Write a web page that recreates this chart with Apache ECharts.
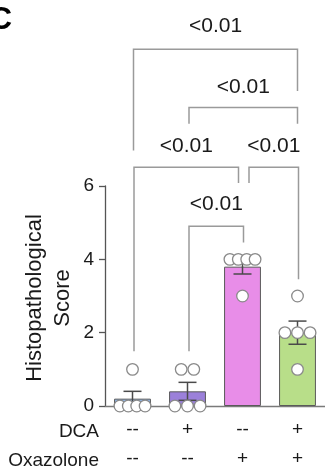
<!DOCTYPE html>
<html>
<head>
<meta charset="utf-8">
<script src="https://cdn.jsdelivr.net/npm/echarts@6/dist/echarts.min.js"></script>
<style>
  html, body { margin: 0; padding: 0; background: #fff; }
  #chart { width: 325px; height: 473px; }
</style>
</head>
<body>
<div id="chart"></div>
<script>
// Treatment groups and the DCA / Oxazolone design rows under the x axis
const categories = ['Vehicle', 'DCA', 'Oxazolone', 'DCA + Oxazolone'];
const dcaRow = ['--', '+', '--', '+'];
const oxazoloneRow = ['--', '--', '+', '+'];

// Histopathological score: group means and SEM
const meanScores = [0.2, 0.4, 3.8, 2.0];
const semScores = [0.2, 0.245, 0.2, 0.316];

// Individual animal scores per group
const scoresVehicle = [1, 0, 0, 0, 0];
const scoresDca = [1, 1, 0, 0, 0];
const scoresOxazolone = [4, 4, 4, 4, 3];
const scoresDcaOxazolone = [3, 2, 2, 2, 1];

// Y axis ticks
const yMin = 0, yMax = 6, yStep = 2;

// Pairwise comparisons (group indices) and their p-values
const comparisons = [
  { from: 0, to: 3, p: '<0.01' },
  { from: 1, to: 3, p: '<0.01' },
  { from: 0, to: 2, p: '<0.01' },
  { from: 2, to: 3, p: '<0.01' },
  { from: 1, to: 2, p: '<0.01' }
];

// Bracket geometry in score units (bar level, leg ends, label height) + pixel nudges
const bracketLayout = [
  { level: 9.73, leftEnd: 6.97, rightEnd: 8.59, labelAt: 10.35, dxL: 1, dxR: 0 },
  { level: 8.14, leftEnd: 7.70, rightEnd: 7.70, labelAt: 8.70, dxL: 1.5, dxR: 0 },
  { level: 6.51, leftEnd: 1.49, rightEnd: 6.08, labelAt: 7.09, dxL: 1.5, dxR: -4 },
  { level: 6.51, leftEnd: 6.08, rightEnd: 3.46, labelAt: 7.09, dxL: 6.5, dxR: 1 },
  { level: 4.90, leftEnd: 1.49, rightEnd: 4.46, labelAt: 5.49, dxL: 1.5, dxR: 1 }
];

const barColors = ['#8fb5e6', '#9b80da', '#e88de8', '#b8de89'];
const FONT = '"Liberation Sans", Arial, Helvetica, sans-serif';

// Flatten individual scores into [group, score, slot, countAtScore]
const groupScores = [scoresVehicle, scoresDca, scoresOxazolone, scoresDcaOxazolone];
const dotData = [];
groupScores.forEach((vals, g) => {
  const seen = {};
  const counts = {};
  vals.forEach(v => { counts[v] = (counts[v] || 0) + 1; });
  vals.forEach(v => {
    const slot = seen[v] || 0;
    seen[v] = slot + 1;
    dotData.push([g, v, slot, counts[v]]);
  });
});

const chart = echarts.init(document.getElementById('chart'), null, { renderer: 'canvas' });

const DOT_R = 5.8;
const DOT_SPREAD = 25.2; // max centre-to-centre span of dots sharing a score

const option = {
  animation: false,
  textStyle: { fontFamily: FONT },
  grid: { left: 105, right: 0, top: 186, bottom: 65 },
  xAxis: {
    type: 'category',
    data: categories,
    axisLine: { lineStyle: { color: '#7a7a7a', width: 1.3 } },
    axisTick: { alignWithLabel: true, length: 5, lineStyle: { color: '#7a7a7a', width: 1.3 } },
    axisLabel: {
      interval: 0,
      margin: 9,
      fontSize: 19,
      lineHeight: 29,
      color: '#1a1a1a',
      fontFamily: FONT,
      formatter: (v, i) => dcaRow[i] + '\n' + oxazoloneRow[i]
    }
  },
  yAxis: {
    type: 'value',
    min: yMin,
    max: yMax,
    interval: yStep,
    splitLine: { show: false },
    axisLine: { show: true, lineStyle: { color: '#555', width: 1.3 } },
    axisTick: { show: true, length: 6, lineStyle: { color: '#555', width: 1.3 } },
    axisLabel: { margin: 11, fontSize: 19, color: '#1a1a1a', fontFamily: FONT }
  },
  graphic: [
    {
      type: 'text', left: -11, top: 4, z: 10,
      style: { text: 'C', font: 'bold 32px ' + FONT, fill: '#000' }
    },
    {
      type: 'text', x: 49, y: 298, rotation: Math.PI / 2, z: 10,
      style: {
        text: 'Histopathological\nScore',
        font: '22px ' + FONT, lineHeight: 28,
        align: 'center', verticalAlign: 'middle', fill: '#1a1a1a'
      }
    },
    {
      type: 'text', x: 99, y: 432, z: 10,
      style: { text: 'DCA', font: '19px ' + FONT, align: 'right', verticalAlign: 'middle', fill: '#1a1a1a' }
    },
    {
      type: 'text', x: 99, y: 461, z: 10,
      style: { text: 'Oxazolone', font: '19px ' + FONT, align: 'right', verticalAlign: 'middle', fill: '#1a1a1a' }
    }
  ],
  series: [
    {
      type: 'bar',
      barWidth: '67%',
      z: 2,
      data: meanScores.map((v, i) => ({ value: v, itemStyle: { color: barColors[i] } })),
      itemStyle: { borderColor: '#5a5a5a', borderWidth: 1 }
    },
    {
      // SEM error bars
      type: 'custom',
      z: 3,
      encode: { x: 0, y: [1, 2] },
      data: meanScores.map((m, i) => [i, m - semScores[i], m + semScores[i]]),
      renderItem: (params, api) => {
        const lo = api.coord([api.value(0), api.value(1)]);
        const hi = api.coord([api.value(0), api.value(2)]);
        const half = 9;
        const st = { stroke: '#4a4a4a', lineWidth: 1.5 };
        return {
          type: 'group',
          children: [
            { type: 'line', shape: { x1: lo[0], y1: lo[1], x2: hi[0], y2: hi[1] }, style: st },
            { type: 'line', shape: { x1: lo[0] - half, y1: lo[1], x2: lo[0] + half, y2: lo[1] }, style: st },
            { type: 'line', shape: { x1: hi[0] - half, y1: hi[1], x2: hi[0] + half, y2: hi[1] }, style: st }
          ]
        };
      }
    },
    {
      // Individual animals
      type: 'custom',
      z: 4,
      encode: { x: 0, y: 1 },
      data: dotData,
      renderItem: (params, api) => {
        const p = api.coord([api.value(0), api.value(1)]);
        const slot = api.value(2), n = api.value(3);
        let dx = 0;
        if (n > 1) {
          const step = Math.min(DOT_SPREAD / 2 + 0.0, DOT_SPREAD / (n - 1));
          dx = (slot - (n - 1) / 2) * step;
        }
        return {
          type: 'circle',
          shape: { cx: p[0] + dx, cy: p[1], r: DOT_R },
          style: { fill: '#fff', stroke: '#8a8a8a', lineWidth: 1.3 }
        };
      }
    },
    {
      // Significance brackets
      type: 'custom',
      z: 5,
      clip: false,
      encode: { x: 0, y: 1 },
      data: comparisons.map(c => [c.from, 0]),
      renderItem: (params, api) => {
        const c = comparisons[params.dataIndex];
        const b = bracketLayout[params.dataIndex];
        const topL = api.coord([c.from, b.level]);
        const topR = api.coord([c.to, b.level]);
        const endL = api.coord([c.from, b.leftEnd]);
        const endR = api.coord([c.to, b.rightEnd]);
        const lab = api.coord([c.from, b.labelAt]);
        const xl = topL[0] + b.dxL, xr = topR[0] + b.dxR;
        const st = { stroke: '#9a9a9a', lineWidth: 1.5, fill: null };
        return {
          type: 'group',
          children: [
            {
              type: 'polyline',
              shape: { points: [[xl, endL[1]], [xl, topL[1]], [xr, topR[1]], [xr, endR[1]]] },
              style: st
            },
            {
              type: 'text',
              x: (xl + xr) / 2, y: lab[1],
              style: {
                text: c.p, font: '21px ' + FONT, fill: '#1a1a1a',
                align: 'center', verticalAlign: 'middle'
              }
            }
          ]
        };
      }
    }
  ]
};

chart.setOption(option);
</script>
</body>
</html>
